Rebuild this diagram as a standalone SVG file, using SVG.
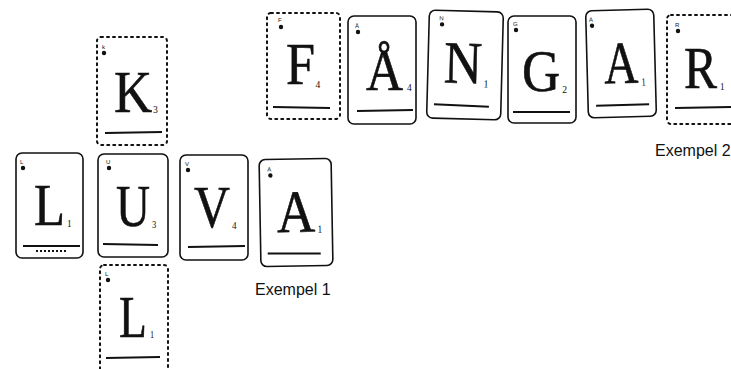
<svg xmlns="http://www.w3.org/2000/svg" width="731" height="369" viewBox="0 0 731 369">
<style>
.card{fill:#fff;stroke:#111;stroke-width:1.6}
.dot{fill:none;stroke:#111;stroke-width:2;stroke-dasharray:2 4;stroke-linecap:round}
.ul{stroke:#111;stroke-width:2}
.big{font-family:"Liberation Serif","DejaVu Serif",serif;font-size:60px;fill:#111;stroke:#111;stroke-width:0.6}
.sub{font-size:11px;stroke:none}
.mk{font-family:"Liberation Sans",sans-serif;font-size:6px;fill:#111}
.lab{font-family:"Liberation Sans","DejaVu Sans",sans-serif;font-size:16px;fill:#111}
</style>
<rect width="731" height="369" fill="#fff"/>
<g id="card-K">
<rect class="dot" x="97" y="37" width="70" height="108" rx="4"/>
<text class="mk" x="102" y="49">k</text><circle cx="104" cy="53" r="2.2" fill="#111"/>
<text class="big" transform="translate(114 112) scale(0.88 1)">K<tspan class="sub" dx="1" dy="1">3</tspan></text>
<line class="ul" x1="105" y1="133" x2="162" y2="132"/>
</g>
<g id="card-L1">
<rect class="card" x="16" y="153" width="67" height="105" rx="6"/>
<text class="mk" x="20" y="164">L</text><circle cx="23" cy="168" r="2.2" fill="#111"/>
<text class="big" transform="translate(34 225) scale(0.845 1)">L<tspan class="sub" dx="2.4" dy="2">1</tspan></text>
<line class="ul" x1="23" y1="246" x2="80" y2="246"/>
<line x1="36" y1="251" x2="68" y2="251" stroke="#111" stroke-width="2" stroke-dasharray="2 2"/>
</g>
<g id="card-U">
<rect class="card" x="98" y="154" width="70" height="103" rx="6"/>
<text class="mk" x="106" y="164">U</text><circle cx="109" cy="168" r="2.2" fill="#111"/>
<text class="big" transform="translate(116 226) scale(0.785 1)">U<tspan class="sub" dx="2.5" dy="2">3</tspan></text>
<line class="ul" x1="103" y1="244" x2="158" y2="245"/>
</g>
<g id="card-V">
<rect class="card" x="180" y="155" width="68" height="105" rx="6"/>
<text class="mk" x="185" y="166">V</text><circle cx="188" cy="170" r="2.2" fill="#111"/>
<text class="big" transform="translate(194 227) scale(0.83 1)">V<tspan class="sub" dx="2.4" dy="2">4</tspan></text>
<line class="ul" x1="188" y1="247" x2="245" y2="246"/>
</g>
<g id="card-A1" transform="rotate(-1 296 212)">
<rect class="card" x="260" y="159" width="72" height="107" rx="6"/>
<text class="mk" x="268" y="171">A</text><circle cx="271" cy="175" r="2.2" fill="#111"/>
<text class="big" transform="translate(277 232) scale(0.88 1)">A<tspan class="sub" dx="2.3" dy="1">1</tspan></text>
<line class="ul" x1="267" y1="253" x2="320" y2="254"/>
</g>
<g id="card-L2">
<rect class="dot" x="100" y="265" width="68" height="112" rx="4"/>
<text class="mk" x="105" y="276">L</text><circle cx="108" cy="280" r="2.2" fill="#111"/>
<text class="big" transform="translate(119 337) scale(0.76 1)">L<tspan class="sub" dx="4" dy="1">1</tspan></text>
<line class="ul" x1="106" y1="358" x2="160" y2="357"/>
</g>
<text class="lab" x="255" y="295">Exempel 1</text>
<g id="card-F">
<rect class="dot" x="267" y="13" width="73" height="106" rx="4"/>
<text class="mk" x="278" y="22">F</text><circle cx="281" cy="27" r="2.2" fill="#111"/>
<text class="big" font-size="56" transform="translate(286 84) scale(0.87 1)">F<tspan class="sub" dx="0.5" dy="4">4</tspan></text>
<line class="ul" x1="273" y1="107" x2="330" y2="108"/>
</g>
<g id="card-AA">
<rect class="card" x="348" y="16" width="68" height="108" rx="6"/>
<text class="mk" x="355" y="28">Å</text><circle cx="358" cy="32" r="2.2" fill="#111"/>
<text class="big" transform="translate(366 90) scale(0.855 1)">Å<tspan class="sub" dx="4.7" dy="1">4</tspan></text>
<line class="ul" x1="357" y1="111" x2="413" y2="110"/>
</g>
<g id="card-N" transform="rotate(1.5 465 65)">
<rect class="card" x="428" y="11" width="74" height="108" rx="6"/>
<text class="mk" x="438" y="21">N</text><circle cx="441" cy="25" r="2.2" fill="#111"/>
<text class="big" transform="translate(444 83) scale(0.88 1)">N<tspan class="sub" dx="2.3" dy="4">1</tspan></text>
<line class="ul" x1="435" y1="105" x2="490" y2="106"/>
</g>
<g id="card-G">
<rect class="card" x="508" y="16" width="68" height="107" rx="6"/>
<text class="mk" x="513" y="26">G</text><circle cx="516" cy="30" r="2.2" fill="#111"/>
<text class="big" transform="translate(522 91) scale(0.88 1)">G<tspan class="sub" dx="2.3" dy="2">2</tspan></text>
<line class="ul" x1="513" y1="112" x2="570" y2="112"/>
</g>
<g id="card-A2" transform="rotate(-1.5 621 63)">
<rect class="card" x="587" y="10" width="68" height="107" rx="6"/>
<text class="mk" x="590" y="21">A</text><circle cx="593" cy="25" r="2.2" fill="#111"/>
<text class="big" transform="translate(604 83) scale(0.785 1)">A<tspan class="sub" dx="3.8" dy="3">1</tspan></text>
<line class="ul" x1="595" y1="105" x2="648" y2="105"/>
</g>
<g id="card-R">
<rect class="dot" x="667" y="15" width="74" height="109" rx="4"/>
<text class="mk" x="675" y="27">R</text><circle cx="678" cy="31" r="2.2" fill="#111"/>
<text class="big" transform="translate(684 88) scale(0.825 1)">R<tspan class="sub" dx="3.6" dy="2">1</tspan></text>
<line class="ul" x1="675" y1="108" x2="731" y2="107"/>
</g>
<text class="lab" x="655" y="156">Exempel 2</text>
</svg>
